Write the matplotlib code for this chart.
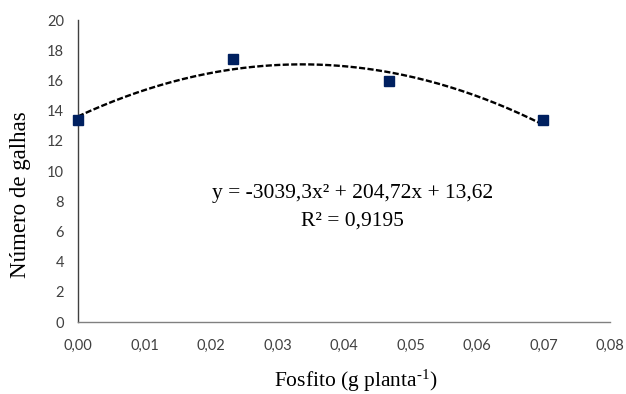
import numpy as np
import matplotlib
matplotlib.use('Agg')
import matplotlib.pyplot as plt

# data
fosfito = [0.0, 0.0233, 0.0467, 0.07]
galhas = [13.4, 17.45, 15.95, 13.35]
x_ticks = [0.0, 0.01, 0.02, 0.03, 0.04, 0.05, 0.06, 0.07, 0.08]
y_ticks = [0, 2, 4, 6, 8, 10, 12, 14, 16, 18, 20]
coef = [-3039.3, 204.72, 13.62]
r2 = 0.9195

serif = 'Liberation Serif'
tick_font = 'Lato'
plt.rcParams['mathtext.fontset'] = 'custom'
plt.rcParams['mathtext.rm'] = serif
plt.rcParams['mathtext.it'] = serif + ':italic'

fig = plt.figure(figsize=(6.26, 3.94), dpi=100)
ax = fig.add_axes([0.1246, 0.1827, 0.8498, 0.7663])

xs = np.linspace(fosfito[0], fosfito[-1], 200)
ax.plot(xs, np.polyval(coef, xs), color='black', lw=1.7, ls=(0, (2.6, 1.0)), zorder=2)
ax.plot(fosfito, galhas, 's', color='#002060', ms=7.5, zorder=3, clip_on=False)

ax.set_xlim(0, 0.08)
ax.set_ylim(0, 20)
ax.set_xticks(x_ticks)
ax.set_yticks(y_ticks)
ax.set_xticklabels([f'{v:.2f}'.replace('.', ',') for v in x_ticks], fontfamily=tick_font, fontsize=10.5, color='#404040')
ax.set_yticklabels([str(v) for v in y_ticks], fontfamily=tick_font, fontsize=10.5, color='#404040')
ax.tick_params(axis='x', length=0, pad=12)
ax.tick_params(axis='y', length=0, pad=10)

for s in ['top', 'right']:
    ax.spines[s].set_visible(False)
ax.spines['left'].set_color('#404040')
ax.spines['bottom'].set_color('#808080')
ax.spines['left'].set_linewidth(1.0)
ax.spines['bottom'].set_linewidth(1.0)

fig.text(0.5687, 0.034, 'Fosfito (g planta$^{\\text{-1}}$)', fontfamily=serif, fontsize=15.5,
         ha='center', va='center')
fig.text(0.033, 0.505, 'Número de galhas', fontfamily=serif, fontsize=16.5,
         ha='center', va='center', rotation=90)

eq = f'y = {coef[0]:.1f}x² + {coef[1]:.2f}x + {coef[2]:.2f}'.replace('.', ',')
ax.text(0.0413, 8.2, eq, fontfamily=serif, fontsize=15.5, ha='center', va='baseline')
ax.text(0.0413, 6.42, f'R² = {r2:.4f}'.replace('.', ','), fontfamily=serif, fontsize=15.5,
        ha='center', va='baseline')

fig.savefig('out.png', dpi=100)
